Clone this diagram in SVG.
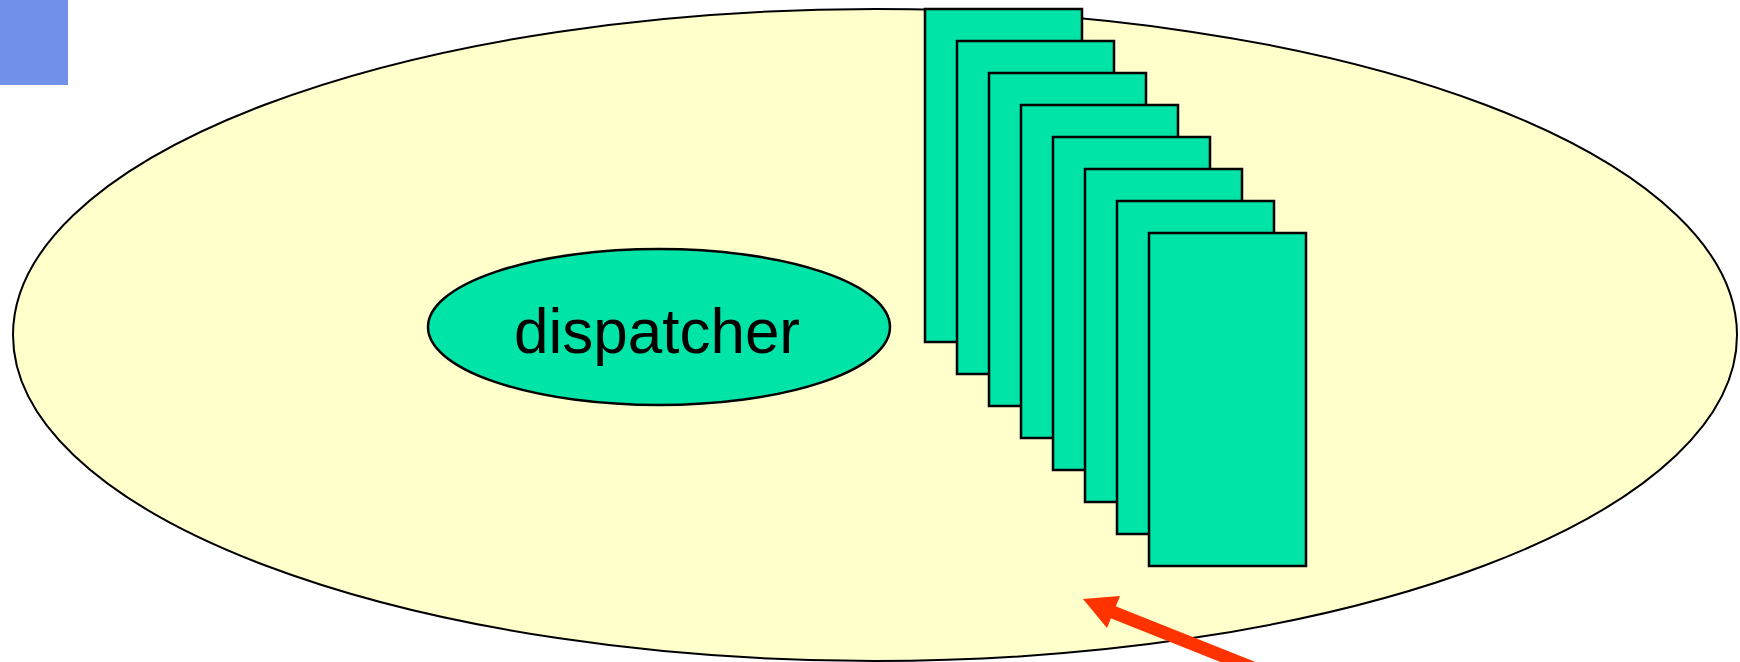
<svg xmlns="http://www.w3.org/2000/svg" width="1740" height="662" viewBox="0 0 1740 662">
  <style>
    .outline { stroke: #000; }
    .space { fill: #FFFFCC; stroke-width: 2; }
    .proc { fill: #00E4A8; stroke-width: 2.5; }
    .label { font-family: "Liberation Sans", Arial, sans-serif; font-size: 63px; fill: #000; text-anchor: middle; }
  </style>
  <defs>
    <rect id="worker" width="157" height="333" class="proc outline"/>
  </defs>
  <rect width="1740" height="662" fill="#fff"/>
  <!-- corner marker -->
  <rect id="corner" x="0" y="0" width="68" height="85" fill="#7190E9"/>
  <!-- enclosing process space -->
  <g id="space">
    <ellipse cx="875" cy="335" rx="862" ry="326" class="space outline"/>
  </g>
  <g id="dispatcher">
    <ellipse cx="659" cy="327" rx="231" ry="78" class="proc outline" stroke-width="2"/>
    <text x="657" y="353" class="label" textLength="286" lengthAdjust="spacingAndGlyphs">dispatcher</text>
  </g>
  <!-- stack of worker frames, back to front -->
  <g id="workers">
    <use href="#worker" x="925" y="9"/>
    <use href="#worker" x="957" y="41"/>
    <use href="#worker" x="989" y="73"/>
    <use href="#worker" x="1021" y="105"/>
    <use href="#worker" x="1053" y="137"/>
    <use href="#worker" x="1085" y="169"/>
    <use href="#worker" x="1117" y="201"/>
    <use href="#worker" x="1149" y="233"/>
  </g>
  <g id="connectors">
    <line x1="1110" y1="611" x2="1263" y2="672" stroke="#FF3300" stroke-width="13"/>
    <polygon points="1083,599 1120,596 1107,628" fill="#FF3300"/>
  </g>
</svg>
